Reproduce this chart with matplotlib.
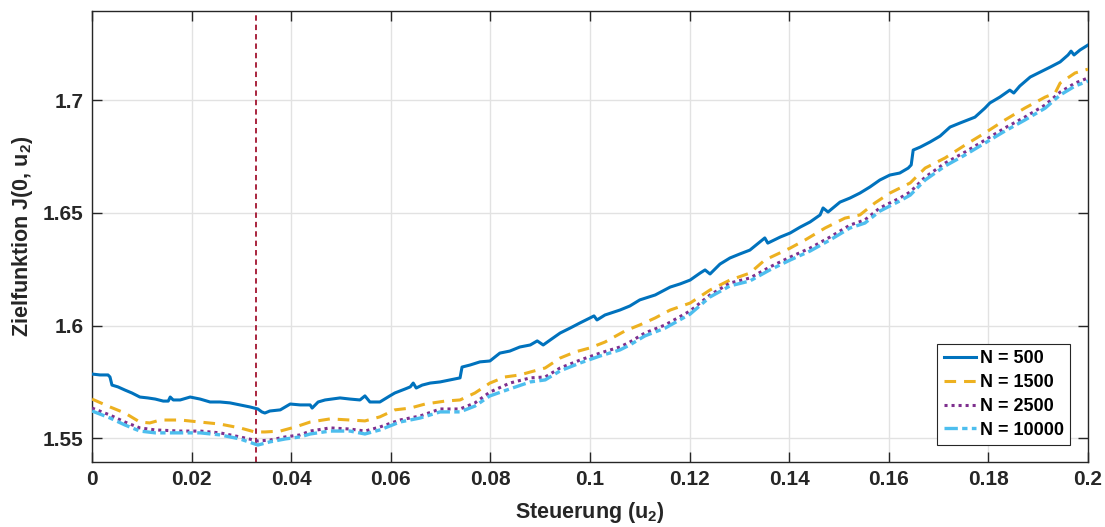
import numpy as np
import matplotlib
matplotlib.use("Agg")
import matplotlib.pyplot as plt

plt.rcParams["font.family"] = ["Liberation Sans", "DejaVu Sans"]
plt.rcParams["mathtext.fontset"] = "custom"
plt.rcParams["mathtext.rm"] = "Liberation Sans:bold"
plt.rcParams["mathtext.bf"] = "Liberation Sans:bold"
plt.rcParams["mathtext.default"] = "bf"

# Control values u2 and objective values J(0, u2) for each sample size N
u_n500 = [0, 0.0016, 0.0032, 0.0036, 0.0040, 0.0052, 0.0066, 0.0080, 0.0096, 0.0112,
          0.0127, 0.0143, 0.0153, 0.0157, 0.0163, 0.0177, 0.0197, 0.0217, 0.0237, 0.0257,
          0.0277, 0.0297, 0.0317, 0.0333, 0.0341, 0.0347, 0.0357, 0.0378, 0.0398, 0.0418,
          0.0438, 0.0442, 0.0454, 0.0468, 0.0498, 0.0518, 0.0538, 0.0548, 0.0558, 0.0578,
          0.0598, 0.0608, 0.0629, 0.0639, 0.0645, 0.0651, 0.0663, 0.0679, 0.0699, 0.0719,
          0.0739, 0.0743, 0.0759, 0.0779, 0.0799, 0.0819, 0.0839, 0.0859, 0.0880, 0.0894,
          0.0906, 0.0920, 0.0940, 0.0960, 0.0980, 0.1000, 0.1008, 0.1014, 0.1030, 0.1060,
          0.1080, 0.1100, 0.1131, 0.1161, 0.1181, 0.1201, 0.1221, 0.1231, 0.1241, 0.1261,
          0.1281, 0.1301, 0.1321, 0.1341, 0.1351, 0.1357, 0.1382, 0.1402, 0.1422, 0.1442,
          0.1462, 0.1468, 0.1478, 0.1502, 0.1522, 0.1542, 0.1562, 0.1582, 0.1602, 0.1622,
          0.1639, 0.1645, 0.1649, 0.1663, 0.1683, 0.1703, 0.1723, 0.1743, 0.1773, 0.1793,
          0.1803, 0.1823, 0.1843, 0.1851, 0.1863, 0.1884, 0.1904, 0.1924, 0.1944, 0.1960,
          0.1966, 0.1972, 0.1984, 0.2000]
j_n500 = [1.5785, 1.5781, 1.5781, 1.5772, 1.5736, 1.5728, 1.5714, 1.5701, 1.5683, 1.5679,
          1.5674, 1.5665, 1.5665, 1.5683, 1.5670, 1.5670, 1.5683, 1.5674, 1.5661, 1.5661,
          1.5657, 1.5648, 1.5639, 1.5630, 1.5617, 1.5612, 1.5621, 1.5626, 1.5652, 1.5648,
          1.5648, 1.5634, 1.5661, 1.5670, 1.5679, 1.5674, 1.5670, 1.5688, 1.5661, 1.5661,
          1.5688, 1.5701, 1.5719, 1.5728, 1.5745, 1.5723, 1.5736, 1.5745, 1.5750, 1.5759,
          1.5768, 1.5816, 1.5825, 1.5839, 1.5843, 1.5878, 1.5887, 1.5905, 1.5914, 1.5932,
          1.5914, 1.5936, 1.5967, 1.5989, 1.6012, 1.6034, 1.6043, 1.6025, 1.6047, 1.6069,
          1.6087, 1.6114, 1.6136, 1.6171, 1.6185, 1.6202, 1.6233, 1.6247, 1.6229, 1.6273,
          1.6300, 1.6318, 1.6335, 1.6371, 1.6389, 1.6366, 1.6393, 1.6411, 1.6437, 1.6460,
          1.6491, 1.6522, 1.6504, 1.6548, 1.6566, 1.6588, 1.6615, 1.6646, 1.6668, 1.6677,
          1.6699, 1.6713, 1.6779, 1.6792, 1.6815, 1.6841, 1.6881, 1.6899, 1.6925, 1.6965,
          1.6988, 1.7014, 1.7045, 1.7032, 1.7063, 1.7103, 1.7125, 1.7147, 1.7170, 1.7201,
          1.7218, 1.7201, 1.7223, 1.7245]

u_n1500 = [0, 0.0036, 0.0066, 0.0096, 0.0116, 0.0137, 0.0177, 0.0217, 0.0257, 0.0297,
           0.0327, 0.0347, 0.0378, 0.0408, 0.0438, 0.0478, 0.0518, 0.0548, 0.0578, 0.0608,
           0.0639, 0.0669, 0.0709, 0.0739, 0.0769, 0.0799, 0.0829, 0.0859, 0.0880, 0.0910,
           0.0940, 0.0970, 0.1000, 0.1030, 0.1070, 0.1100, 0.1131, 0.1161, 0.1201, 0.1241,
           0.1281, 0.1321, 0.1351, 0.1402, 0.1432, 0.1472, 0.1512, 0.1542, 0.1572, 0.1602,
           0.1643, 0.1673, 0.1713, 0.1753, 0.1793, 0.1833, 0.1873, 0.1914, 0.1934, 0.1944,
           0.1974, 0.2000]
j_n1500 = [1.5674, 1.5639, 1.5612, 1.5572, 1.5568, 1.5581, 1.5581, 1.5572, 1.5563, 1.5546,
           1.5528, 1.5528, 1.5532, 1.5550, 1.5572, 1.5586, 1.5581, 1.5577, 1.5595, 1.5626,
           1.5634, 1.5652, 1.5665, 1.5670, 1.5701, 1.5745, 1.5772, 1.5781, 1.5794, 1.5812,
           1.5856, 1.5883, 1.5901, 1.5927, 1.5976, 1.6003, 1.6034, 1.6069, 1.6100, 1.6158,
           1.6202, 1.6233, 1.6291, 1.6344, 1.6380, 1.6433, 1.6477, 1.6491, 1.6544, 1.6588,
           1.6633, 1.6699, 1.6744, 1.6801, 1.6855, 1.6912, 1.6965, 1.7014, 1.7032, 1.7076,
           1.7121, 1.7138]

u_large = [0, 0.0036, 0.0066, 0.0096, 0.0127, 0.0177, 0.0217, 0.0257, 0.0297, 0.0333,
           0.0357, 0.0388, 0.0418, 0.0438, 0.0478, 0.0518, 0.0548, 0.0578, 0.0618, 0.0659,
           0.0699, 0.0739, 0.0769, 0.0799, 0.0839, 0.0880, 0.0910, 0.0940, 0.0980, 0.1020,
           0.1060, 0.1080, 0.1110, 0.1151, 0.1201, 0.1241, 0.1281, 0.1321, 0.1361, 0.1402,
           0.1442, 0.1482, 0.1522, 0.1552, 0.1582, 0.1622, 0.1643, 0.1673, 0.1713, 0.1753,
           0.1793, 0.1833, 0.1873, 0.1914, 0.1944, 0.1974, 0.2000]
j_n2500 = [1.5634, 1.5603, 1.5572, 1.5546, 1.5537, 1.5532, 1.5532, 1.5524, 1.5506, 1.5488,
           1.5492, 1.5506, 1.5515, 1.5532, 1.5546, 1.5541, 1.5532, 1.5550, 1.5581, 1.5599,
           1.5630, 1.5630, 1.5657, 1.5705, 1.5745, 1.5768, 1.5772, 1.5812, 1.5847, 1.5878,
           1.5905, 1.5927, 1.5967, 1.6003, 1.6065, 1.6136, 1.6189, 1.6211, 1.6260, 1.6304,
           1.6344, 1.6393, 1.6446, 1.6469, 1.6522, 1.6566, 1.6593, 1.6659, 1.6721, 1.6770,
           1.6823, 1.6877, 1.6925, 1.6979, 1.7036, 1.7076, 1.7099]
j_n10000 = [1.5621, 1.5590, 1.5559, 1.5532, 1.5524, 1.5524, 1.5524, 1.5515, 1.5497, 1.5470,
            1.5484, 1.5497, 1.5506, 1.5519, 1.5532, 1.5532, 1.5519, 1.5537, 1.5572, 1.5590,
            1.5617, 1.5617, 1.5643, 1.5688, 1.5719, 1.5750, 1.5759, 1.5799, 1.5834, 1.5865,
            1.5892, 1.5914, 1.5954, 1.5989, 1.6051, 1.6127, 1.6176, 1.6198, 1.6247, 1.6291,
            1.6331, 1.6380, 1.6433, 1.6455, 1.6508, 1.6553, 1.6579, 1.6646, 1.6708, 1.6757,
            1.6810, 1.6863, 1.6912, 1.6965, 1.7023, 1.7063, 1.7085]

u_opt = 0.033
legend_labels = ["N = 500", "N = 1500", "N = 2500", "N = 10000"]
xticks = [0, 0.02, 0.04, 0.06, 0.08, 0.1, 0.12, 0.14, 0.16, 0.18, 0.2]
xticklabels = ["0", "0.02", "0.04", "0.06", "0.08", "0.1", "0.12", "0.14", "0.16", "0.18", "0.2"]
yticks = [1.55, 1.6, 1.65, 1.7]
yticklabels = ["1.55", "1.6", "1.65", "1.7"]

axis_col = "#262626"

fig = plt.figure(figsize=(11.05, 5.27), dpi=100)
ax = fig.add_axes([0.0833, 0.1239, 0.9013, 0.8552])

ax.plot(u_n500, j_n500, color="#0072BD", lw=2.2, label=legend_labels[0], zorder=3)
ax.plot(u_n1500, j_n1500, color="#EDB120", lw=2.2, linestyle=(0, (3.8, 2.6)),
        label=legend_labels[1], zorder=3)
ax.plot(u_large, j_n2500, color="#7E2F8E", lw=2.2, linestyle=(0, (1.0, 1.3)),
        label=legend_labels[2], zorder=3)
ax.plot(u_large, j_n10000, color="#4DBEEE", lw=2.4, linestyle=(0, (4.0, 1.3, 1.6, 1.3)),
        label=legend_labels[3], zorder=3)

ax.axvline(u_opt, color="#A2142F", lw=1.3, linestyle=(0, (3.0, 2.2)), zorder=2)

ax.set_xlim(0, 0.2)
ax.set_ylim(1.5396, 1.7396)
ax.set_xticks(xticks)
ax.set_xticklabels(xticklabels)
ax.set_yticks(yticks)
ax.set_yticklabels(yticklabels)

ax.grid(True, color="#e2e2e2", lw=1.0, zorder=0)
ax.set_axisbelow(True)
for s in ax.spines.values():
    s.set_color(axis_col)
    s.set_linewidth(1.0)
ax.tick_params(axis="both", direction="in", length=7, width=1.0, color=axis_col,
               top=True, right=True, labelsize=15, labelcolor=axis_col, pad=6)
for lab in ax.get_xticklabels() + ax.get_yticklabels():
    lab.set_fontweight("bold")

ax.set_xlabel("Steuerung (u$_2$)", fontsize=15.5, fontweight="bold", color=axis_col, labelpad=8)
ax.set_ylabel("Zielfunktion J(0, u$_2$)", fontsize=15.5, fontweight="bold", color=axis_col, labelpad=6)

leg = ax.legend(loc="lower right", bbox_to_anchor=(0.982, 0.037), borderaxespad=0,
                prop={"weight": "bold", "size": 13}, handlelength=1.8, handletextpad=0.2,
                labelspacing=0.38, borderpad=0.35, fancybox=False, framealpha=1.0)
leg.get_frame().set_edgecolor(axis_col)
leg.get_frame().set_linewidth(0.8)
for t in leg.get_texts():
    t.set_color("black")

fig.savefig("out.png", dpi=100, facecolor="white")
